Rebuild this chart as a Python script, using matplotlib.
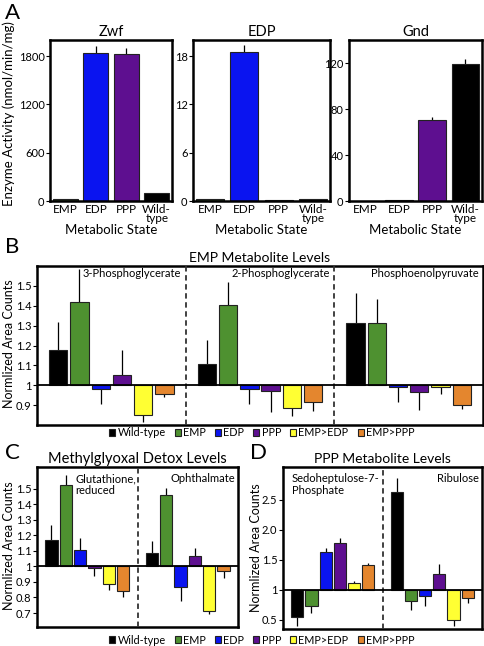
import numpy as np
import matplotlib
matplotlib.use("Agg")
import matplotlib.pyplot as plt
from matplotlib.patches import Patch

plt.rcParams['font.family'] = ['Lato', 'DejaVu Sans']

# ---------------- data ----------------
a_cats = ["EMP", "EDP", "PPP", "Wild-\ntype"]
zwf_vals = [30, 1841, 1821, 95]
zwf_err = [0, 85, 80, 5]
edp_vals = [0.25, 18.55, 0.15, 0.3]
edp_err = [0, 0.85, 0, 0]
gnd_vals = [0.3, 1.0, 70.8, 119.2]
gnd_err = [0, 0.3, 2.0, 4.0]

strains = ["Wild-type", "EMP", "EDP", "PPP", "EMP>EDP", "EMP>PPP"]
colors = ["#000000", "#4e9130", "#0a14f0", "#5e0f90", "#ffff33", "#e4862e"]
a_colors = ["#3d5a2c", "#0a14f0", "#5e0f90", "#000000"]

b_names = ["3-Phosphoglycerate", "2-Phosphoglycerate", "Phosphoenolpyruvate"]
pg3_vals = [1.177, 1.419, 0.983, 1.054, 0.852, 0.958]
pg3_err = [0.141, 0.165, 0.077, 0.121, 0.037, 0.018]
pg2_vals = [1.108, 1.404, 0.982, 0.973, 0.886, 0.914]
pg2_err = [0.118, 0.116, 0.075, 0.109, 0.039, 0.045]
pep_vals = [1.312, 1.315, 0.992, 0.967, 0.992, 0.902]
pep_err = [0.150, 0.121, 0.078, 0.090, 0.035, 0.022]

c_names = ["Glutathione,\nreduced", "Ophthalmate"]
gsh_vals = [1.172, 1.521, 1.106, 0.990, 0.885, 0.843]
gsh_err = [0.096, 0.069, 0.077, 0.052, 0.038, 0.043]
oph_vals = [1.089, 1.462, 0.868, 1.064, 0.715, 0.972]
oph_err = [0.073, 0.040, 0.089, 0.055, 0.021, 0.044]

d_names = ["Sedoheptulose-7-\nPhosphate", "Ribulose"]
s7p_vals = [0.544, 0.739, 1.628, 1.778, 1.111, 1.417]
s7p_err = [0.138, 0.128, 0.078, 0.094, 0.045, 0.027]
rib_vals = [2.633, 0.822, 0.900, 1.267, 0.494, 0.867]
rib_err = [0.228, 0.150, 0.161, 0.161, 0.088, 0.078]

W, H = 484, 646
fig = plt.figure(figsize=(W / 100, H / 100), dpi=100)


def box(x0, y0, x1, y1):
    # pixel box -> figure fraction
    return fig.add_axes([x0 / W, 1 - y1 / H, (x1 - x0) / W, (y1 - y0) / H])


def frame(ax):
    for s in ax.spines.values():
        s.set_linewidth(1.8)
    ax.tick_params(axis='y', direction='out', length=3, width=0.8, labelsize=8, pad=1)
    ax.tick_params(axis='x', length=0, labelsize=8.5, pad=2)


def err_lines(ax, x, vals, errs, base):
    for xi, v, e in zip(x, vals, errs):
        if e <= 0:
            continue
        end = v + e if v >= base else v - e
        ax.plot([xi, xi], [v, end], color='black', lw=0.9, solid_capstyle='butt', zorder=1)


# ---------------- panel A ----------------
a_specs = [("Zwf", zwf_vals, zwf_err, 2000, [0, 600, 1200, 1800], (50, 172)),
           ("EDP", edp_vals, edp_err, 20, [0, 6, 12, 18], (193, 330)),
           ("Gnd", gnd_vals, gnd_err, 140, [0, 40, 80, 120], (349, 482))]
for i, (title, vals, errs, top, ticks, (x0, x1)) in enumerate(a_specs):
    ax = box(x0, 40, x1, 201)
    x = np.arange(len(vals))
    err_lines(ax, x, vals, errs, 0)
    ax.bar(x, vals, width=0.82, color=a_colors, edgecolor='#222222', linewidth=0.8, zorder=2)
    ax.set_xlim(-0.5, 3.5)
    ax.set_ylim(0, top)
    ax.set_yticks(ticks)
    ax.set_xticks(x)
    ax.set_xticklabels(a_cats, linespacing=0.8)
    frame(ax)
    ax.set_title(title, fontsize=10.5, pad=3)
    ax.set_xlabel("Metabolic State", fontsize=9.5, labelpad=0)
    if i == 0:
        ax.set_ylabel("Enzyme Activity (nmol/min/mg)", fontsize=9.5)
        ax.yaxis.set_label_coords(-0.29, 0.54)

fig.text(5 / W, 1 - 13 / H, "A", fontsize=16, va='center', ha='left')


def grouped(ax, groups):
    ng = len(groups)
    for g, (vals, errs) in enumerate(groups):
        x = g * 7 + 1 + np.arange(6)
        err_lines(ax, x, vals, errs, 1)
        ax.bar(x, np.array(vals) - 1, bottom=1, width=0.86, color=colors,
               edgecolor='#222222', linewidth=0.8, zorder=2)
        if g > 0:
            ax.axvline(g * 7, color='#333333', lw=1.3, ls=(0, (3, 2)), zorder=3)
    ax.axhline(1, color='black', lw=1.3, zorder=3)
    ax.set_xlim(0, 7 * ng)
    ax.set_xticks([])
    frame(ax)
    return ax


# ---------------- panel B ----------------
axb = box(37, 266, 483, 425)
grouped(axb, [(pg3_vals, pg3_err), (pg2_vals, pg2_err), (pep_vals, pep_err)])
axb.set_ylim(0.8, 1.6)
axb.set_yticks([0.9, 1.0, 1.1, 1.2, 1.3, 1.4, 1.5])
axb.set_yticklabels(["0.9", "1", "1.1", "1.2", "1.3", "1.4", "1.5"])
for g, nm in enumerate(b_names):
    axb.text(g * 7 + 6.8, 1.563, nm, ha='right', va='center', fontsize=8)
axb.set_title("EMP Metabolite Levels", fontsize=10, pad=3)
axb.set_ylabel("Normlized Area Counts", fontsize=9)
axb.yaxis.set_label_coords(-0.049, 0.51)
fig.text(5 / W, 1 - 247 / H, "B", fontsize=16, va='center', ha='left')

# ---------------- panel C ----------------
axc = box(37, 467, 238, 627)
grouped(axc, [(gsh_vals, gsh_err), (oph_vals, oph_err)])
axc.set_ylim(0.61, 1.64)
axc.set_yticks([0.7, 0.8, 0.9, 1.0, 1.1, 1.2, 1.3, 1.4, 1.5])
axc.set_yticklabels(["0.7", "0.8", "0.9", "1", "1.1", "1.2", "1.3", "1.4", "1.5"])
axc.text(2.65, 1.6, c_names[0], ha='left', va='top', fontsize=8, linespacing=1.1)
axc.text(13.8, 1.6, c_names[1], ha='right', va='top', fontsize=8)
axc.set_title("Methylglyoxal Detox Levels", fontsize=10.5, pad=3)
axc.set_ylabel("Normlized Area Counts", fontsize=9)
axc.yaxis.set_label_coords(-0.109, 0.51)
fig.text(5 / W, 1 - 453 / H, "C", fontsize=16, va='center', ha='left')

# ---------------- panel D ----------------
axd = box(283, 467, 482, 629)
grouped(axd, [(s7p_vals, s7p_err), (rib_vals, rib_err)])
axd.set_ylim(0.35, 3.05)
axd.set_yticks([0.5, 1.0, 1.5, 2.0, 2.5])
axd.set_yticklabels(["0.5", "1", "1.5", "2.0", "2.5"])
axd.text(0.6, 2.95, d_names[0], ha='left', va='top', fontsize=8, linespacing=1.1)
axd.text(13.8, 2.95, d_names[1], ha='right', va='top', fontsize=8)
axd.set_title("PPP Metabolite Levels", fontsize=10, pad=3)
axd.set_ylabel("Normlized Area Counts", fontsize=9)
axd.yaxis.set_label_coords(-0.105, 0.5)
fig.text(250 / W, 1 - 453 / H, "D", fontsize=16, va='center', ha='left')

# ---------------- legends ----------------
handles = [Patch(facecolor=c, edgecolor='#222222', linewidth=0.8) for c in colors]
for yc in (433, 640):
    fig.legend(handles, strains, loc='center', bbox_to_anchor=(262 / W, 1 - yc / H),
               ncol=6, frameon=False, fontsize=7.8, handlelength=0.55, handleheight=0.55,
               handletextpad=0.2, columnspacing=0.85, borderpad=0, borderaxespad=0)

fig.savefig("out.png", dpi=100)
